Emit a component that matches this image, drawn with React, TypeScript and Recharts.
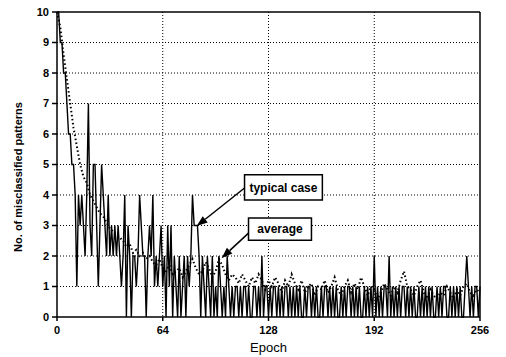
import React from 'react';
import { LineChart, Line, XAxis, YAxis, CartesianGrid, ReferenceLine, ReferenceArea } from 'recharts';

// Number of misclassified patterns, one value per epoch (0..256)
const typicalCase: number[] = [
  10, 10, 9, 9, 8, 8, 7, 6, 6, 5, 5, 4, 1, 4, 3, 4,
  3, 2, 4, 7, 3, 2, 5, 5, 3, 1, 3, 5, 4, 3, 2, 4,
  2, 3, 2, 3, 2, 3, 2, 1, 2, 4, 0, 3, 2, 0, 2, 2,
  1, 2, 4, 3, 2, 2, 0, 2, 3, 2, 4, 1, 2, 1, 2, 3,
  1, 2, 0, 3, 1, 3, 0, 2, 1, 0, 2, 0, 1, 2, 0, 2,
  1, 2, 4, 3, 3, 3, 2, 0, 2, 1, 0, 2, 1, 0, 2, 0,
  1, 0, 2, 1, 0, 1, 0, 2, 1, 0, 1, 0, 1, 1, 0, 1,
  0, 1, 1, 0, 1, 0, 0, 1, 1, 0, 1, 0, 2, 0, 1, 1,
  0, 1, 0, 1, 1, 0, 1, 0, 1, 0, 1, 1, 0, 1, 0, 1,
  0, 1, 0, 1, 0, 0, 1, 0, 1, 1, 0, 1, 0, 1, 0, 0,
  1, 0, 1, 1, 0, 1, 0, 1, 0, 1, 0, 0, 1, 0, 1, 0,
  1, 1, 0, 1, 0, 1, 0, 1, 0, 0, 1, 0, 1, 0, 1, 0,
  2, 0, 1, 0, 1, 0, 1, 1, 0, 2, 0, 1, 0, 1, 0, 1,
  0, 1, 1, 0, 1, 0, 1, 0, 1, 0, 0, 1, 0, 1, 0, 1,
  0, 1, 0, 1, 0, 0, 1, 0, 1, 0, 1, 1, 0, 0, 1, 0,
  1, 0, 1, 0, 1, 0, 0, 1, 2, 1, 0, 1, 0, 1, 1, 0,
  1,
];

// Average over runs, one value every 2 epochs (0..256)
const averageStep = 2;
const averageCase: number[] = [
  10, 9.5, 8.6, 7.8, 7.0, 6.2, 5.6, 5.0, 4.6, 4.4, 4.0, 3.8, 3.6, 3.4, 3.3, 3.1,
  2.9, 2.8, 2.7, 2.6, 2.5, 2.3, 2.4, 2.1, 2.2, 2.0, 2.1, 1.9, 2.0, 1.8, 1.7, 1.9,
  1.6, 1.5, 1.7, 1.4, 1.5, 1.6, 1.3, 1.5, 1.7, 1.9, 1.6, 1.4, 1.5, 1.8, 1.6, 1.3,
  1.5, 1.9, 1.7, 1.4, 1.2, 1.4, 1.3, 1.1, 1.4, 1.2, 1.0, 1.3, 1.1, 1.4, 1.2, 0.9,
  1.2, 1.0, 1.3, 1.1, 0.8, 1.2, 1.0, 1.4, 1.1, 0.9, 1.2, 0.8, 1.0, 1.1, 0.7, 1.0,
  0.9, 1.2, 0.8, 1.0, 1.3, 0.9, 0.7, 1.0, 1.2, 0.8, 1.1, 0.9, 1.3, 1.0, 0.7, 1.0,
  0.9, 0.6, 0.8, 1.1, 0.9, 0.7, 1.0, 0.8, 1.2, 1.5, 1.0, 0.9, 0.7, 1.0, 1.2, 0.8,
  0.6, 0.9, 0.7, 0.6, 0.8, 0.7, 1.0, 0.8, 0.6, 0.9, 0.7, 1.0, 1.1, 0.8, 0.7, 0.9,
  0.8,
];

const xTicks = [0, 64, 128, 192, 256];
const yTicks = [0, 1, 2, 3, 4, 5, 6, 7, 8, 9, 10];

// Annotation boxes (data coordinates) and arrows
const typicalBox = { x1: 113.5, x2: 160.6, y1: 3.84, y2: 4.66, text: 'typical case' };
const averageBox = { x1: 115.9, x2: 154, y1: 2.52, y2: 3.25, text: 'average' };
const typicalArrow = [{ x: 113.5, y: 4.23 }, { x: 84.5, y: 2.98 }];
const averageArrow = [{ x: 115.9, y: 2.75 }, { x: 99.6, y: 1.93 }];

const typicalData = typicalCase.map((v, i) => ({ epoch: i, value: v }));
const averageData = averageCase.map((v, i) => ({ epoch: i * averageStep, value: v }));

const FONT = '"Liberation Sans", Arial, Helvetica, sans-serif';

const Arrow = (props: any) => {
  const { x1, y1, x2, y2 } = props;
  const ang = Math.atan2(y2 - y1, x2 - x1);
  const len = 11;
  const w = 4;
  const bx = x2 - len * Math.cos(ang);
  const by = y2 - len * Math.sin(ang);
  const px = -Math.sin(ang) * w;
  const py = Math.cos(ang) * w;
  return (
    <g>
      <line x1={x1} y1={y1} x2={bx} y2={by} stroke="#000" strokeWidth={1.5} />
      <polygon points={`${x2},${y2} ${bx + px},${by + py} ${bx - px},${by - py}`} fill="#000" />
    </g>
  );
};

export default function App() {
  return (
    <div style={{ position: 'absolute', left: 0, top: 0, width: 506, height: 357, background: '#fff' }}>
      <LineChart width={506} height={357} margin={{ top: 12, right: 26, left: 0, bottom: 10 }}>
        <CartesianGrid
          stroke="#000"
          strokeDasharray="1 2"
          strokeWidth={1}
          verticalValues={[64, 128, 192]}
          horizontalValues={[1, 2, 3, 4, 5, 6, 7, 8, 9]}
        />
        <XAxis
          type="number"
          dataKey="epoch"
          domain={[0, 256]}
          ticks={xTicks}
          height={30}
          allowDuplicatedCategory={false}
          stroke="#000"
          strokeWidth={1.5}
          tickSize={4}
          tickMargin={5}
          tick={{ fill: '#000', fontSize: 11, fontWeight: 'bold', fontFamily: FONT }}
          label={{
            content: (p: any) => {
              const vb = p.viewBox || {};
              return (
                <text x={vb.x + vb.width / 2} y={352} textAnchor="middle" fill="#000" fontSize={13} fontFamily={FONT}>
                  Epoch
                </text>
              );
            },
          }}
        />
        <YAxis
          type="number"
          domain={[0, 10]}
          ticks={yTicks}
          width={57}
          stroke="#000"
          strokeWidth={1.5}
          tickSize={5}
          tickMargin={3}
          tick={{ fill: '#000', fontSize: 11, fontWeight: 'bold', fontFamily: FONT }}
          label={{
            content: () => (
              <text
                x={22}
                y={177}
                transform="rotate(-90 22 177)"
                textAnchor="middle"
                fill="#000"
                fontSize={11}
                fontWeight="bold"
                fontFamily={FONT}
              >
                No. of misclassified patterns
              </text>
            ),
          }}
        />
        <ReferenceLine y={10} stroke="#000" strokeWidth={1.5} />
        <ReferenceLine x={256} stroke="#000" strokeWidth={1.5} />
        <Line
          data={typicalData}
          dataKey="value"
          type="linear"
          stroke="#000"
          strokeWidth={1.4}
          dot={false}
          isAnimationActive={false}
        />
        <Line
          data={averageData}
          dataKey="value"
          type="linear"
          stroke="#000"
          strokeWidth={2}
          strokeDasharray="1.5 2.5"
          dot={false}
          isAnimationActive={false}
        />
        <ReferenceLine
          segment={typicalArrow}
          shape={(p: any) => <Arrow {...p} />}
          ifOverflow="visible"
        />
        <ReferenceLine
          segment={averageArrow}
          shape={(p: any) => <Arrow {...p} />}
          ifOverflow="visible"
        />
        <ReferenceArea
          x1={typicalBox.x1}
          x2={typicalBox.x2}
          y1={typicalBox.y1}
          y2={typicalBox.y2}
          fill="#fff"
          fillOpacity={1}
          stroke="#000"
          strokeWidth={1.5}
          ifOverflow="visible"
          label={{ value: typicalBox.text, position: 'center', fill: '#000', fontSize: 12, fontWeight: 'bold', fontFamily: FONT }}
        />
        <ReferenceArea
          x1={averageBox.x1}
          x2={averageBox.x2}
          y1={averageBox.y1}
          y2={averageBox.y2}
          fill="#fff"
          fillOpacity={1}
          stroke="#000"
          strokeWidth={1.5}
          ifOverflow="visible"
          label={{ value: averageBox.text, position: 'center', fill: '#000', fontSize: 12, fontWeight: 'bold', fontFamily: FONT }}
        />
      </LineChart>
    </div>
  );
}
